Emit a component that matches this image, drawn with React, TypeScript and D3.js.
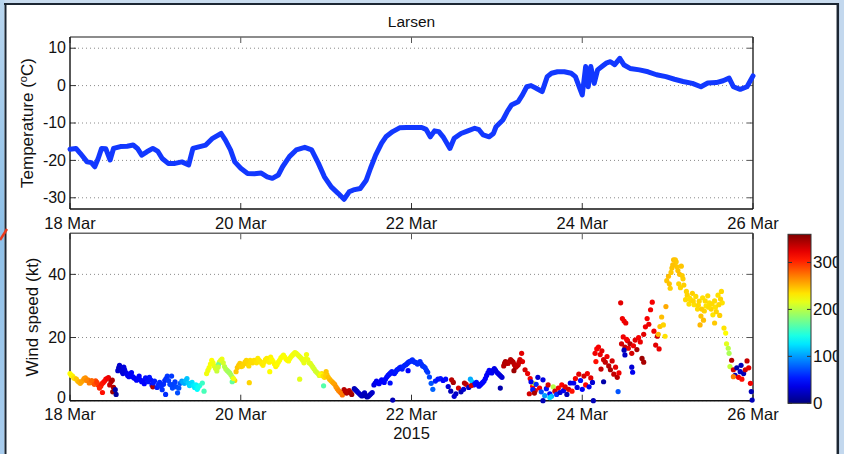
import React from 'react';
import * as d3 from 'd3';

const W = 844;
const H = 454;

// Temperature series (days since 18 Mar 2015, deg C)
const tempDay = [
  0, 0.07, 0.12, 0.2, 0.25, 0.29, 0.33, 0.37, 0.42, 0.47,
  0.51, 0.59, 0.67, 0.74, 0.79, 0.84, 0.9, 0.97, 1.03, 1.08,
  1.15, 1.23, 1.31, 1.39, 1.44, 1.52, 1.59, 1.67, 1.77, 1.82,
  1.88, 1.93, 2.0, 2.08, 2.16, 2.24, 2.31, 2.37, 2.44, 2.49,
  2.57, 2.65, 2.75, 2.83, 2.91, 2.98, 3.06, 3.14, 3.21, 3.27,
  3.32, 3.4, 3.47, 3.52, 3.58, 3.65, 3.7, 3.78, 3.86, 3.94,
  4.04, 4.12, 4.17, 4.22, 4.27, 4.32, 4.37, 4.45, 4.5, 4.58,
  4.66, 4.74, 4.79, 4.84, 4.91, 4.96, 4.99, 5.07, 5.12, 5.17,
  5.25, 5.3, 5.35, 5.4, 5.46, 5.53, 5.59, 5.64, 5.71, 5.79,
  5.87, 5.92, 5.97, 6.0, 6.04, 6.07, 6.1, 6.14, 6.18, 6.23,
  6.28, 6.33, 6.38, 6.44, 6.49, 6.56, 6.67, 6.77, 6.87, 6.98,
  7.08, 7.18, 7.29, 7.39, 7.47, 7.57, 7.65, 7.72, 7.77, 7.85,
  7.93, 8.0,
];
const tempC = [
  -17.0, -16.8, -18.1, -20.4, -20.6, -21.7, -19.5, -16.8, -16.9, -19.9,
  -16.8, -16.3, -16.2, -15.9, -16.8, -18.6, -17.7, -16.8, -17.6, -19.5,
  -20.8, -20.8, -20.4, -21.2, -16.8, -16.3, -15.9, -14.1, -12.8, -14.6,
  -17.2, -20.4, -22.1, -23.5, -23.6, -23.4, -24.4, -24.8, -23.9, -21.7,
  -19.0, -17.2, -16.5, -17.2, -20.8, -24.4, -27.1, -28.8, -30.4, -28.4,
  -27.9, -27.5, -25.3, -22.1, -18.6, -15.4, -13.7, -12.3, -11.3, -11.2,
  -11.2, -11.2, -11.7, -13.7, -12.1, -12.3, -13.7, -16.8, -14.1, -12.8,
  -12.1, -11.4, -11.8, -13.2, -13.7, -12.8, -11.0, -9.2, -7.0, -5.2,
  -4.3, -2.5, -0.3, 0.0, -0.7, -1.6, 2.4, 3.3, 3.7, 3.7,
  3.3, 2.4, -0.7, -2.5, 5.1, -0.3, 5.1, 0.6, 4.2, 5.1,
  6.0, 6.4, 5.6, 7.3, 5.5, 4.6, 4.2, 3.7, 2.9, 2.4,
  1.7, 1.1, 0.6, -0.3, 0.7, 0.8, 1.3, 2.0, -0.3, -1.0,
  -0.3, 2.6,
];

// Wind observations: day since 18 Mar, speed (kt), direction (deg)
const windDay = [
  0.00, 0.03, 0.06, 0.09, 0.12, 0.15, 0.18, 0.21, 0.24, 0.27, 0.30, 0.33, 0.36, 0.39, 0.42, 0.45, 0.48, 0.51, 0.38, 0.50, 0.53, 0.54,
  0.56, 0.58, 0.60, 0.62, 0.64, 0.66, 0.69, 0.72, 0.75, 0.78, 0.81, 0.84, 0.87, 0.90, 0.93, 0.96, 0.99, 0.97,
  1.02, 1.05, 1.08, 1.11, 1.14, 1.17, 1.20, 1.23, 1.26, 1.29, 1.12, 1.19,
  1.31, 1.34, 1.37, 1.40, 1.43, 1.46, 1.49,
  1.52, 1.55, 1.57,
  1.60, 1.63, 1.66, 1.69, 1.72, 1.75, 1.78, 1.81, 1.84, 1.87, 1.90, 1.93, 1.74, 1.90,
  1.96, 1.99, 2.02, 2.05, 2.08, 2.11, 2.14, 2.17, 2.20, 2.23, 2.26, 2.29, 2.32, 2.35, 2.38, 2.41, 2.44, 2.47, 2.50, 2.53, 2.56, 2.59, 2.62, 2.65, 2.68, 2.71, 2.74, 2.77, 2.10, 2.69, 2.34,
  2.80, 2.83, 2.86, 2.89, 2.92, 2.95, 2.98, 3.01, 3.04, 3.07, 3.10, 3.13, 3.16, 3.19, 2.97, 3.00,
  3.21, 3.24, 3.27, 3.30, 3.33, 3.36, 3.39, 3.42, 3.45, 3.48, 3.51, 3.54, 3.78,
  3.56, 3.59, 3.62, 3.65, 3.68, 3.71, 3.74, 3.77, 3.80, 3.83, 3.86, 3.89, 3.92, 3.95, 3.98, 4.01, 4.04, 4.07, 4.10, 4.13, 4.16, 4.19, 3.75, 3.96,
  4.21, 4.23, 4.25, 4.28, 4.31, 4.34, 4.37, 4.40, 4.43, 4.46, 4.49, 4.52, 4.55, 4.58, 4.61, 4.64, 4.47, 4.50, 4.62,
  4.67, 4.69, 4.71, 4.73, 4.76, 4.79, 4.82, 4.85, 4.88, 4.91, 4.94, 4.97, 5.00, 5.03, 5.06, 5.04, 4.70,
  5.08, 5.10, 5.13, 5.16, 5.19, 5.22, 5.25, 5.27, 5.29, 5.30, 5.33, 5.36, 5.39, 5.42, 5.45, 5.20, 5.43, 5.38,
  5.40, 5.42, 5.44, 5.46, 5.48, 5.50, 5.52, 5.54, 5.56, 5.58, 5.60, 5.62, 5.64, 5.66, 5.68, 5.70, 5.54, 5.62,
  5.72, 5.74, 5.76, 5.78, 5.80, 5.82, 5.84, 5.86, 5.88,
  5.90, 5.92, 5.94, 5.96, 5.98, 6.00, 6.02, 6.04, 6.06, 6.08, 6.10, 6.12, 6.13,
  6.15, 6.17, 6.19, 6.21, 6.23, 6.25, 6.27, 6.29, 6.31, 6.33, 6.35, 6.37, 6.39, 6.41, 6.43, 6.25, 6.42, 6.16, 6.22,
  6.45, 6.47, 6.49, 6.51, 6.53, 6.46, 6.48, 6.50, 6.52, 6.54, 6.56, 6.58, 6.60, 6.62, 6.64, 6.66, 6.68, 6.70, 6.72, 6.74, 6.76, 6.78, 6.80, 6.82, 6.84, 6.86, 6.88, 6.90, 6.49, 6.50, 6.58, 6.59, 6.72,
  6.89, 6.91, 6.93, 6.95, 6.97, 6.98,
  6.99, 7.01, 7.03, 7.05, 7.07, 7.08, 7.10, 7.12, 7.14, 7.16, 7.18, 7.13, 7.15, 7.19, 7.21, 7.23, 7.25, 7.27, 7.29, 7.31, 7.33,
  7.35, 7.37, 7.39, 7.41, 7.43, 7.45, 7.47, 7.49, 7.51, 7.53, 7.55, 7.57, 7.59, 7.61, 7.63, 7.64, 7.38, 7.42, 7.55,
  7.66, 7.68, 7.69, 7.71, 7.72, 7.73, 7.75, 7.77, 7.79, 7.81, 7.83, 7.85, 7.87, 7.89, 7.91, 7.93, 7.95, 7.97, 7.98, 7.99, 7.77, 7.86,
  // additional readings filling the dense bands
  0.015, 0.045, 0.075, 0.105, 0.135, 0.165, 0.195, 0.225, 0.255, 0.285, 0.315, 0.345, 0.375, 0.405, 0.435, 0.465, 0.495,
  0.57, 0.61, 0.63, 0.675, 0.705, 0.735, 0.765, 0.795, 0.825, 0.855, 0.885, 0.915, 0.945, 0.975,
  1.035, 1.065, 1.095, 1.125, 1.155, 1.185, 1.215, 1.245, 1.275,
  1.325, 1.355, 1.385, 1.415, 1.445, 1.475, 1.50,
  1.615, 1.645, 1.675, 1.705, 1.735, 1.765, 1.795, 1.825, 1.855, 1.885, 1.915, 1.945,
  1.975, 2.005, 2.035, 2.065, 2.095, 2.125, 2.155, 2.185, 2.215, 2.245, 2.275, 2.305, 2.335, 2.365, 2.395, 2.425, 2.455, 2.485, 2.515, 2.545, 2.575, 2.605, 2.635, 2.665, 2.695, 2.725, 2.755, 2.785,
  2.815, 2.845, 2.875, 2.905, 2.935, 2.965, 2.995, 3.025, 3.055, 3.085, 3.115, 3.145, 3.175,
  3.225, 3.255, 3.285, 3.345, 3.375, 3.405, 3.435, 3.465, 3.495, 3.525,
  3.575, 3.605, 3.635, 3.665, 3.695, 3.725, 3.755, 3.785, 3.815, 3.845, 3.875, 3.905, 3.935, 3.965, 3.995, 4.025, 4.055, 4.085, 4.115, 4.145, 4.175,
  4.745, 4.775, 4.805, 4.835, 4.865, 4.895, 4.925, 4.955, 4.985, 5.015, 5.045,
  5.09, 5.115, 5.145, 5.175, 5.205, 5.235, 5.26,
  7.02, 7.04, 7.06, 7.09, 7.11, 7.17, 7.22, 7.26, 7.30, 7.36, 7.40, 7.44, 7.48, 7.52, 7.56, 7.60, 7.62,
];
const windKt = [
  8.6, 7.8, 7.0, 6.2, 5.5, 6.4, 7.2, 6.6, 6.0, 5.7, 6.3, 5.0, 4.6, 5.8, 6.8, 7.3, 6.0, 4.2, 2.6, 2.8, 3.5, 2.0,
  9.5, 11.2, 10.0, 8.6, 9.8, 8.8, 7.6, 8.9, 7.2, 6.5, 7.8, 6.0, 5.4, 6.8, 7.4, 5.0, 6.2, 4.4,
  4.2, 5.8, 3.5, 6.4, 7.8, 5.2, 4.0, 6.0, 2.5, 5.5, 2.0, 7.8,
  6.2, 5.5, 7.0, 4.8, 5.8, 4.2, 3.6,
  4.8, 5.6, 3.0,
  8.6, 10.5, 12.8, 11.0, 9.4, 12.2, 13.2, 10.8, 9.6, 8.8, 7.5, 6.4, 11.5, 6.0,
  10.5, 11.8, 11.0, 12.2, 11.6, 12.8, 12.0, 12.6, 13.4, 12.4, 11.2, 13.0, 12.8, 13.8, 12.4, 10.8, 12.2, 13.6, 14.4, 13.2, 12.6, 14.0, 14.8, 15.0, 14.2, 13.4, 12.0, 14.6, 5.7, 6.8, 9.2,
  12.0, 11.2, 10.0, 9.0, 8.0, 8.6, 7.4, 8.2, 6.8, 6.0, 5.2, 3.8, 2.8, 1.8, 4.7, 9.2,
  3.5, 2.4, 3.2, 2.0, 3.8, 3.0, 2.2, 1.5, 2.5, 1.2, 1.8, 2.6, 0.2,
  5.0, 6.2, 5.4, 6.6, 5.8, 7.5, 8.4, 9.2, 8.6, 9.8, 10.4, 10.0, 11.2, 11.8, 12.4, 12.9, 12.2, 11.6, 12.4, 11.0, 10.4, 9.0, 5.6, 9.5,
  7.5, 5.5, 3.6, 6.2, 6.8, 7.0, 6.4, 6.8, 4.5, 3.0, 5.8, 2.2, 4.0, 2.8, 3.6, 5.2, 6.6, 1.4, 5.6,
  4.2, 6.8, 6.0, 5.0, 5.8, 4.6, 5.4, 6.2, 8.0, 9.6, 8.8, 10.2, 9.0, 8.2, 7.4, 4.0, 4.8,
  11.0, 12.4, 11.8, 13.0, 12.2, 10.6, 11.4, 13.0, 15.0, 12.4, 9.8, 8.6, 7.0, 4.6, 3.2, 9.5, 5.5, 2.2,
  6.0, 3.5, 2.4, 5.2, 7.4, 4.0, 2.8, 6.6, 1.6, 3.8, 5.0, 2.2, 1.4, 4.4, 3.0, 2.0, 0.0, 1.0,
  4.0, 2.6, 5.0, 3.2, 4.4, 2.0, 3.6, 5.6, 3.0,
  5.6, 7.0, 4.2, 8.4, 6.4, 3.6, 7.8, 5.0, 8.6, 4.4, 7.2, 5.8, 0.0,
  15.0, 16.4, 17.0, 14.6, 15.8, 13.0, 12.2, 14.0, 11.0, 9.8, 12.6, 8.4, 10.6, 7.4, 8.8, 6.0, 2.9, 12.4, 10.0,
  31.0, 26.0, 25.2, 24.6, 19.0, 18.0, 20.2, 17.0, 19.4, 16.6, 18.0, 15.0, 17.4, 19.2, 16.2, 20.0, 18.6, 13.4, 21.0, 23.4, 26.0, 24.2, 28.8, 31.2, 22.0, 17.6, 20.4, 16.4, 16.0, 14.5, 10.6, 9.0, 12.2,
  21.0, 23.5, 26.5, 24.0, 20.4, 29.8,
  38.0, 39.4, 35.6, 42.0, 44.6, 43.0, 44.0, 41.2, 40.0, 42.6, 38.6, 37.0, 35.8, 36.6, 32.0, 33.4, 30.6, 31.8, 34.0, 30.4, 33.0,
  29.0, 31.5, 26.8, 32.6, 28.4, 30.0, 33.2, 31.0, 29.0, 27.2, 31.6, 28.2, 33.4, 27.0, 34.6, 31.0, 24.0, 25.5, 24.6,
  23.0, 21.4, 18.0, 16.6, 15.0, 10.8, 12.8, 9.8, 8.0, 10.4, 7.4, 9.2, 6.8, 8.6, 9.8, 12.6, 10.4, 5.5, 2.9, 0.2, 7.6, 11.2,
  // additional readings
  8.0, 7.2, 6.8, 5.9, 6.0, 7.0, 6.4, 5.6, 6.4, 5.2, 5.8, 4.0, 5.4, 6.2, 7.0, 5.0, 6.5,
  10.4, 9.2, 10.6, 8.0, 8.4, 7.6, 7.0, 6.8, 6.6, 6.2, 7.2, 6.0, 6.6, 5.6,
  5.0, 4.6, 5.2, 7.0, 6.4, 5.0, 5.2, 4.4, 4.0,
  5.8, 6.4, 5.6, 5.2, 4.8, 5.0, 4.2,
  9.6, 11.6, 12.0, 10.2, 10.6, 12.8, 12.0, 10.0, 9.2, 8.2, 7.0, 9.2,
  11.2, 10.8, 11.6, 12.8, 11.0, 12.4, 12.8, 12.0, 12.8, 11.8, 12.2, 13.4, 12.2, 13.0, 11.6, 11.4, 12.8, 14.0, 13.8, 12.8, 13.4, 14.4, 15.2, 14.6, 13.8, 12.8, 13.2, 13.0,
  11.8, 10.6, 9.4, 8.6, 8.2, 7.8, 7.8, 7.4, 6.4, 5.6, 4.4, 3.2, 2.4,
  3.0, 2.8, 2.6, 3.4, 2.6, 1.8, 2.0, 1.6, 1.4, 2.2,
  5.6, 5.8, 6.0, 6.2, 6.8, 8.0, 8.8, 8.8, 9.2, 10.0, 10.6, 10.8, 11.4, 12.2, 12.6, 12.4, 12.0, 12.0, 11.6, 10.8, 9.6,
  5.4, 5.2, 5.0, 5.8, 7.0, 8.8, 9.2, 9.6, 9.6, 8.6, 7.8,
  11.8, 12.0, 12.4, 12.6, 11.4, 11.0, 12.2,
  37.0, 40.6, 43.0, 44.6, 42.4, 39.6, 34.6, 32.4, 31.6, 30.2, 29.0, 31.6, 29.6, 30.6, 29.6, 30.4, 32.2,
];
const windDir = [
  225, 230, 240, 250, 255, 260, 265, 270, 275, 280, 290, 300, 305, 310, 315, 325, 340, 345, 310, 350, 15, 12,
  25, 28, 30, 32, 35, 38, 40, 42, 45, 42, 45, 48, 45, 50, 52, 50, 55, 345,
  55, 60, 62, 58, 65, 68, 70, 65, 72, 75, 60, 65,
  100, 110, 115, 120, 125, 130, 135,
  150, 155, 160,
  220, 222, 225, 215, 205, 210, 220, 200, 195, 190, 200, 240, 175, 170,
  245, 242, 240, 240, 238, 236, 238, 235, 232, 235, 230, 232, 230, 228, 225, 230, 222, 225, 222, 228, 225, 220, 222, 218, 220, 215, 218, 220, 240, 215, 225,
  215, 212, 210, 208, 212, 235, 240, 245, 250, 255, 260, 265, 270, 275, 165, 245,
  340, 345, 335, 350, 20, 25, 30, 20, 25, 15, 22, 28, 20,
  35, 40, 42, 45, 45, 48, 50, 52, 50, 55, 52, 55, 58, 55, 58, 60, 58, 62, 60, 62, 64, 65, 50, 45,
  70, 75, 80, 55, 50, 52, 45, 48, 30, 20, 345, 25, 330, 20, 28, 330, 340, 30, 340,
  25, 105, 115, 45, 50, 40, 45, 48, 42, 45, 40, 35, 40, 32, 30, 15, 330,
  340, 345, 338, 340, 342, 335, 338, 330, 325, 325, 330, 322, 318, 315, 320, 350, 210, 330,
  40, 55, 345, 60, 30, 320, 70, 35, 100, 50, 330, 45, 110, 200, 330, 60, 20, 120,
  320, 30, 315, 40, 325, 20, 330, 35, 310,
  40, 320, 35, 325, 50, 45, 330, 315, 320, 40, 325, 30, 20,
  320, 315, 318, 322, 325, 330, 335, 320, 340, 345, 330, 335, 325, 340, 320, 15, 75, 310, 335,
  325, 320, 318, 322, 325, 330, 320, 335, 318, 325, 340, 330, 320, 325, 345, 318, 322, 350, 325, 320, 318, 322, 320, 318, 320, 325, 330, 322, 20, 25, 30, 40, 345,
  250, 245, 248, 240, 235, 255,
  245, 248, 242, 246, 248, 245, 244, 246, 248, 245, 242, 240, 240, 242, 238, 240, 236, 238, 242, 236, 238,
  238, 240, 246, 236, 240, 235, 238, 236, 240, 234, 238, 240, 236, 242, 238, 235, 250, 248, 244,
  235, 225, 215, 200, 195, 205, 340, 330, 20, 15, 320, 25, 310, 20, 330, 335, 325, 320, 20, 20, 270, 20,
  // additional readings
  228, 235, 245, 252, 258, 262, 268, 272, 278, 285, 295, 302, 308, 312, 320, 335, 342,
  26, 31, 33, 39, 41, 44, 43, 46, 47, 46, 49, 51, 51, 53,
  58, 61, 60, 62, 66, 69, 68, 70, 74,
  105, 112, 118, 122, 128, 132, 140,
  220, 224, 220, 210, 208, 215, 210, 198, 192, 195, 220, 245,
  244, 241, 240, 239, 237, 237, 236, 234, 233, 232, 231, 231, 229, 226, 228, 226, 224, 223, 225, 226, 222, 221, 220, 219, 217, 216, 219, 218,
  214, 211, 209, 210, 225, 236, 242, 247, 252, 257, 262, 267, 272,
  342, 340, 345, 22, 28, 24, 22, 18, 20, 25,
  38, 41, 44, 45, 47, 49, 51, 51, 53, 54, 54, 57, 57, 57, 59, 59, 60, 61, 61, 63, 64,
  48, 45, 42, 46, 45, 43, 42, 38, 37, 36, 31,
  342, 341, 339, 341, 338, 336, 334,
  246, 244, 247, 245, 245, 243, 240, 237, 239, 239, 243, 238, 237, 238, 236, 239, 240,
];

const xTickDays = [0, 2, 4, 6, 8];
const xTickLabels = ['18 Mar', '20 Mar', '22 Mar', '24 Mar', '26 Mar'];
const tempTicks = [-30, -20, -10, 0, 10];
const windTicks = [0, 20, 40];
const dirTicks = [0, 100, 200, 300];

const FONT = 'Liberation Sans, Arial, Helvetica, sans-serif';

function jet(t: number): string {
  const c = (v: number) => Math.max(0, Math.min(1, v));
  const r = c(1.5 - Math.abs(4 * t - 3));
  const g = c(1.5 - Math.abs(4 * t - 2));
  const b = c(1.5 - Math.abs(4 * t - 1));
  return d3.rgb(r * 255, g * 255, b * 255).formatHex();
}

export default function App() {
  const L = 70, R = 753;
  const x = d3.scaleLinear().domain([0, 8]).range([L, R]);
  const yT = d3.scaleLinear().domain([-33, 13]).range([209, 37]);
  const yW = d3.scaleLinear().domain([0, 53]).range([400.7, 233.3]);
  const color = d3.scaleSequential((t: number) => jet(t)).domain([0, 360]);
  const cbX0 = 788, cbX1 = 811;
  const cbY = d3.scaleLinear().domain([0, 360]).range([403.3, 234.3]);

  const tempLine = d3
    .line<number>()
    .x((_, i) => x(tempDay[i]))
    .y((d) => yT(d))
    .curve(d3.curveLinear)(tempC) as string;

  const gradStops = d3.range(0, 1.0001, 0.05);
  const n = Math.min(windDay.length, windKt.length, windDir.length);
  const windIdx = d3.range(n);

  const panel = (
    y: d3.ScaleLinear<number, number>,
    ticks: number[],
    top: number,
    bottom: number
  ) => (
    <g>
      {ticks.map((t) => (
        <line key={'g' + t} x1={L} x2={R} y1={y(t)} y2={y(t)} stroke="#8a8a8a" strokeWidth={1} strokeDasharray="1,3" />
      ))}
      {ticks.map((t) => (
        <g key={'yt' + t}>
          <line x1={L} x2={L + 6} y1={y(t)} y2={y(t)} stroke="#333" strokeWidth={1} />
          <line x1={R - 6} x2={R} y1={y(t)} y2={y(t)} stroke="#555" strokeWidth={1} />
          <text
            x={L - 4}
            y={Math.min(y(t), bottom - 3)}
            dy="0.33em"
            textAnchor="end"
            fontSize={16}
            fontFamily={FONT}
            fill="#111"
          >
            {t}
          </text>
        </g>
      ))}
      {xTickDays.map((d) => (
        <g key={'xt' + d}>
          <line x1={x(d)} x2={x(d)} y1={bottom} y2={bottom - 6} stroke="#333" strokeWidth={1} />
          <line x1={x(d)} x2={x(d)} y1={top} y2={top + 6} stroke="#555" strokeWidth={1} />
        </g>
      ))}
      <line x1={L} x2={R} y1={top} y2={top} stroke="#666" strokeWidth={1.4} />
      <line x1={R} x2={R} y1={top} y2={bottom} stroke="#222" strokeWidth={1.4} />
      <line x1={L} x2={L} y1={top} y2={bottom} stroke="#111" strokeWidth={1.4} />
      <line x1={L} x2={R} y1={bottom} y2={bottom} stroke="#111" strokeWidth={1.4} />
      {xTickDays.map((d, i) => (
        <text key={'xl' + d} x={x(d)} y={bottom + 19.5} textAnchor="middle" fontSize={16.5} fontFamily={FONT} fill="#111">
          {xTickLabels[i]}
        </text>
      ))}
    </g>
  );

  return (
    <svg width={W} height={H} style={{ position: 'absolute', left: 0, top: 0, display: 'block', background: '#fff' }}>
      <defs>
        <linearGradient id="jetGrad" x1="0" y1="1" x2="0" y2="0">
          {gradStops.map((s) => (
            <stop key={s} offset={s} stopColor={jet(s)} />
          ))}
        </linearGradient>
        <linearGradient id="leftStrip" x1="0" y1="0" x2="0" y2="1">
          <stop offset="0" stopColor="#b9d6ef" />
          <stop offset="0.5" stopColor="#8ec0e8" />
          <stop offset="1" stopColor="#a9cdee" />
        </linearGradient>
      </defs>
      <rect x={0} y={0} width={W} height={H} fill="#fff" />

      {/* title */}
      <text x={(L + R) / 2} y={27} textAnchor="middle" fontSize={15.5} fontFamily={FONT} fill="#111">
        Larsen
      </text>

      {/* top panel */}
      {panel(yT, tempTicks, 37, 209)}
      <path d={tempLine} fill="none" stroke="#1238ff" strokeWidth={5} strokeLinejoin="round" strokeLinecap="round" />
      <text transform={`translate(33,123) rotate(-90)`} textAnchor="middle" fontSize={17} fontFamily={FONT} fill="#111">
        Temperature (<tspan dy={-6} fontSize={11}>o</tspan><tspan dy={6}>C)</tspan>
      </text>

      {/* bottom panel */}
      {panel(yW, windTicks, 233.3, 400.7)}
      {windIdx.map((i) => (
        <circle key={'w' + i} cx={x(windDay[i])} cy={yW(windKt[i])} r={2.6} fill={color(windDir[i])} />
      ))}
      <text transform={`translate(38,317) rotate(-90)`} textAnchor="middle" fontSize={17} fontFamily={FONT} fill="#111">
        Wind speed (kt)
      </text>
      <text x={x(4)} y={439} textAnchor="middle" fontSize={16.5} fontFamily={FONT} fill="#111">
        2015
      </text>

      {/* colorbar */}
      <rect x={cbX0} y={cbY(360)} width={cbX1 - cbX0} height={cbY(0) - cbY(360)} fill="url(#jetGrad)" stroke="#333" strokeWidth={1} />
      {dirTicks.map((t) => (
        <g key={'cb' + t}>
          <line x1={cbX0} x2={cbX0 + 4} y1={cbY(t)} y2={cbY(t)} stroke="#333" strokeWidth={1} />
          <line x1={cbX1 - 4} x2={cbX1} y1={cbY(t)} y2={cbY(t)} stroke="#333" strokeWidth={1} />
          <text x={cbX1 + 2} y={cbY(t)} dy="0.35em" fontSize={17} fontFamily={FONT} fill="#111">
            {t}
          </text>
        </g>
      ))}

      {/* window frame of the screenshot */}
      <rect x={0} y={0} width={W} height={3} fill="#c9dcef" />
      <rect x={0} y={0} width={4.5} height={H} fill="url(#leftStrip)" />
      <rect x={839} y={0} width={5} height={H} fill="#c3d8ee" />
      <line x1={4} x2={838} y1={4} y2={4} stroke="#1c2733" strokeWidth={2} />
      <line x1={5.5} x2={5.5} y1={3} y2={H} stroke="#1c2733" strokeWidth={2} />
      <line x1={837.8} x2={837.8} y1={3} y2={H} stroke="#1c2733" strokeWidth={2.5} />
      <line x1={0} y1={240} x2={7} y2={229} stroke="#ea3a1c" strokeWidth={2.5} />
    </svg>
  );
}
